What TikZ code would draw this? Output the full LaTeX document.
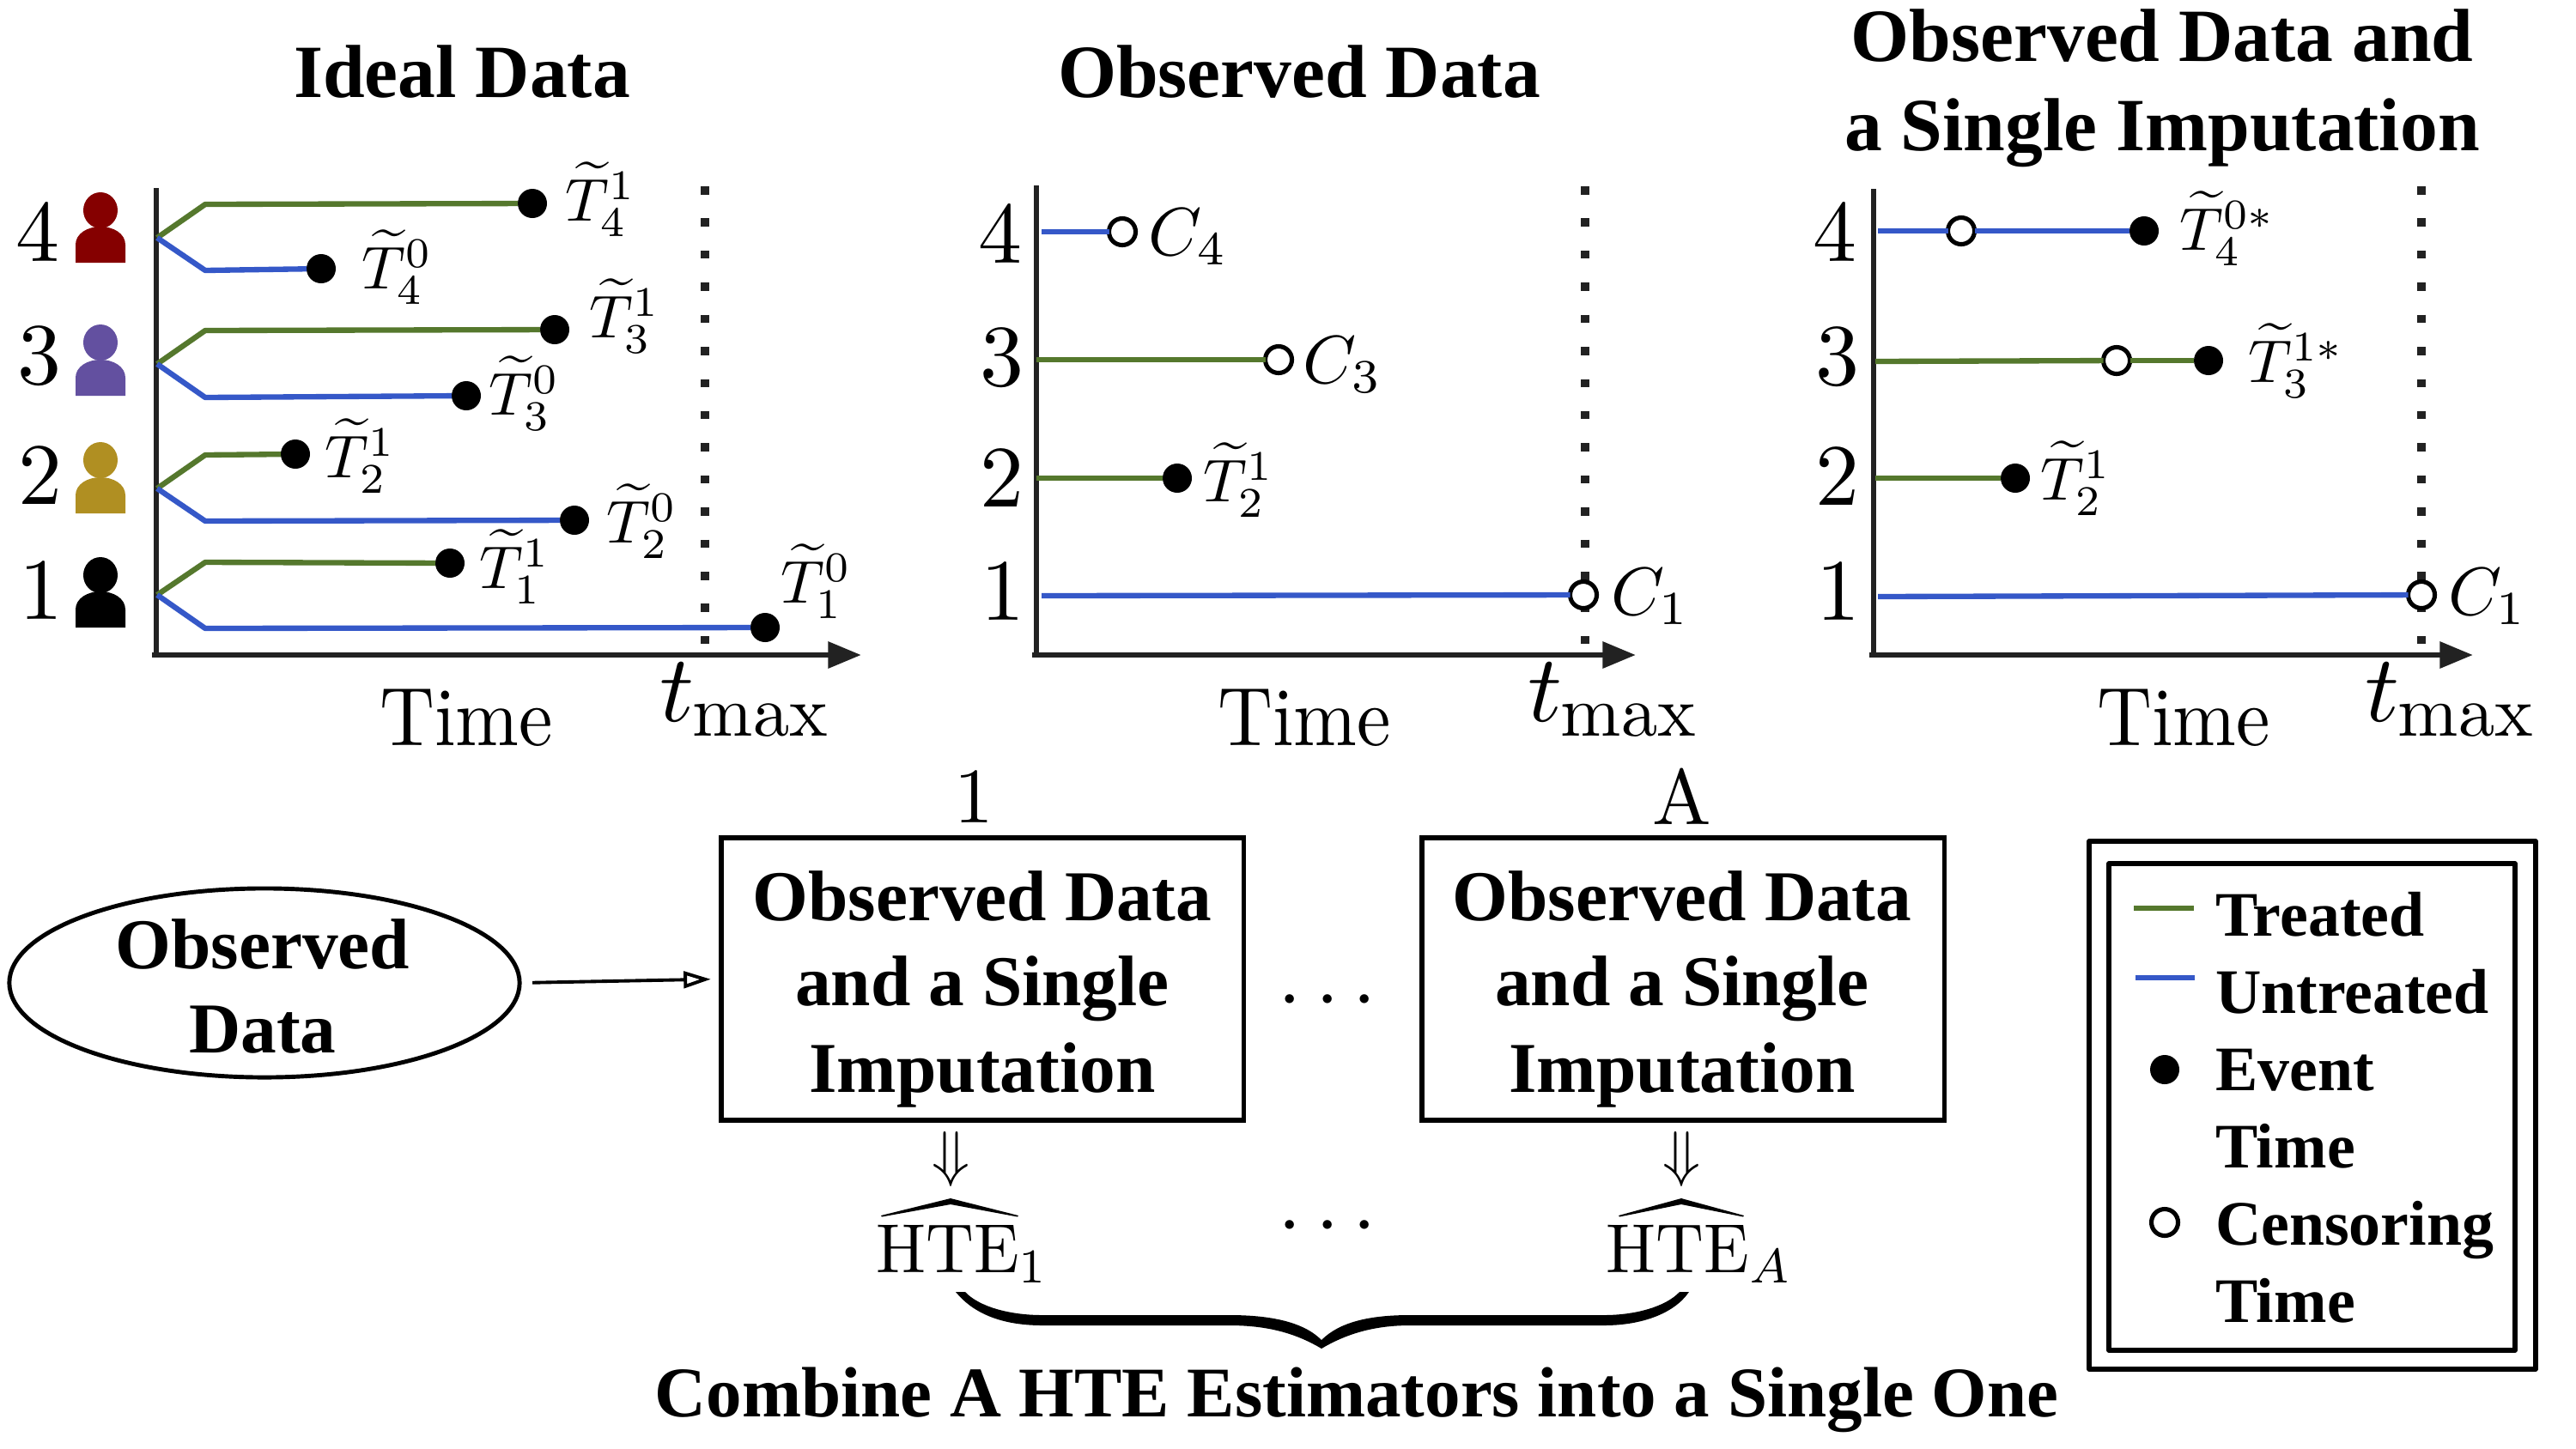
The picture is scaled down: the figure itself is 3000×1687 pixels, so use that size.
\RequirePackage{fix-cm}
\documentclass[tikz,border=0pt]{standalone}
\usepackage{fontspec}
\usetikzlibrary{shapes.geometric,arrows.meta}
\newfontfamily\tnr{Liberation Serif}
\definecolor{trgreen}{HTML}{55782D}
\definecolor{unblue}{HTML}{3558C8}
\definecolor{axisgray}{HTML}{222222}
\definecolor{pred}{HTML}{850000}
\definecolor{ppurple}{HTML}{6350A0}
\definecolor{pgold}{HTML}{B08F22}
\newcommand{\fs}[1]{\fontsize{#1}{#1}\selectfont}
\newcommand{\tmaxlabel}{\scalebox{3.15}{$t$}\hspace{-0.3pt}\raisebox{-4.8pt}{\scalebox{2.4}{max}}}
\newcommand{\numtxt}[1]{\scalebox{2.9}{#1}}
\newcommand{\timetxt}{\scalebox{2.52}[2.75]{Time}}
\newcommand{\tlabtxt}[1]{\scalebox{2.0}{$#1$}}
\newcommand{\clabtxt}[1]{\scalebox{2.25}{$#1$}}
\newcommand{\hatshape}[3]{% left x, tip x, right x
  \fill[black] (#1,1416) -- (#2,1396) -- (#3,1416) -- (#3-1,1417.5) -- (#2,1403) -- (#1+1,1417.5) -- cycle;}
\newcommand{\personicon}[4]{% x, head y, bottom y, colour
  \fill[#4] (#1,#2) ellipse (20 and 21);
  \fill[#4] (#1-29,#3) -- (#1-29,#3-21) .. controls (#1-29,#3-34) and (#1-15,#3-42) .. (#1,#3-42)
     .. controls (#1+15,#3-42) and (#1+29,#3-34) .. (#1+29,#3-21) -- (#1+29,#3) -- cycle;}
\tikzset{
  txt/.style={inner sep=0pt,outer sep=0pt,align=center},
  head/.style={txt,font=\tnr\bfseries\fs{24.9},align=center},
  boxtext/.style={txt,font=\tnr\bfseries\fs{23.7}},
  legtext/.style={inner sep=0pt,outer sep=0pt,anchor=base west,font=\tnr\bfseries\fs{21}},
  evdot/.style={circle,fill=black,draw=none,minimum size=34*0.2845pt,inner sep=0pt,outer sep=0pt},
  cedot/.style={circle,fill=white,draw=black,line width=1.45pt,minimum size=31*0.2845pt,inner sep=0pt,outer sep=0pt},
  tr/.style={trgreen,line width=1.8pt,line join=round},
  un/.style={unblue,line width=1.8pt,line join=round},
  ax/.style={axisgray,line width=1.9pt},
  axarrow/.style={axisgray,line width=1.9pt,-{Triangle[length=11pt,width=8.5pt]}},
  tmaxline/.style={axisgray,line width=2.6pt,dash pattern=on 2.7pt off 7.94pt},
  bigbox/.style={draw=black,line width=1.5pt,minimum width=608*0.2845pt,minimum height=329*0.2845pt,inner sep=0pt,outer sep=0pt},
  legbox/.style={draw=black,line width=1.5pt,line join=round},
}
\begin{document}
\begin{tikzpicture}[x=0.01cm,y=-0.01cm]
\useasboundingbox (0,0) rectangle (3000,1687);
% Titles
\node[head] (t1) at (538,84) {Ideal Data};
\node[head] (t2) at (1513,84) {Observed Data};
\node[head] (t3a) at (2518,42) {Observed Data and};
\node[head] (t3b) at (2518,155) {a Single Imputation};

% ---------- Panel 1
\coordinate (a1top) at (182,219); \coordinate (a1o) at (182,763); \coordinate (a1end) at (1003,763);
\draw[ax] (a1top) -- (a1o);
\draw[axarrow] ([xshift=-1.4pt]a1o) -- (a1end);
\coordinate (d1a) at (821,217); \coordinate (d1b) at (821,750);
\draw[tmaxline] (d1a) -- (d1b);
\foreach \n/\y/\h/\b/\c in {4/270/245/306/pred,3/415/399/461/ppurple,2/554/536/598/pgold,1/688/670/731/black}{
  \personicon{117}{\h}{\b}{\c}
}
\node[txt] (n14) at (44,270) {\numtxt{4}};
\node[txt] (n13) at (46,415) {\numtxt{3}};
\node[txt] (n12) at (47,554) {\numtxt{2}};
\node[txt] (n11) at (48,688) {\numtxt{1}};
\coordinate (o4) at (183,277); \coordinate (o3) at (183,424); \coordinate (o2) at (183,569); \coordinate (o1) at (183,693);
\node[evdot] (e41) at (620,237) {};
\node[evdot] (e40) at (374,313) {};
\node[evdot] (e31) at (646,384) {};
\node[evdot] (e30) at (543,461) {};
\node[evdot] (e21) at (344,529) {};
\node[evdot] (e20) at (669,606) {};
\node[evdot] (e11) at (524,656) {};
\node[evdot] (e10) at (891,731) {};
\coordinate (b41) at (239,238); \coordinate (b40) at (239,315);
\coordinate (b31) at (239,385); \coordinate (b30) at (239,463);
\coordinate (b21) at (239,530); \coordinate (b20) at (239,607);
\coordinate (b11) at (239,655); \coordinate (b10) at (239,732);
\draw[tr] (o4) -- (b41) -- (e41);
\draw[un] (o4) -- (b40) -- (e40);
\draw[tr] (o3) -- (b31) -- (e31);
\draw[un] (o3) -- (b30) -- (e30);
\draw[tr] (o2) -- (b21) -- (e21);
\draw[un] (o2) -- (b20) -- (e20);
\draw[tr] (o1) -- (b11) -- (e11);
\draw[un] (o1) -- (b10) -- (e10);
\node[txt] (l41) at (700,232) {\tlabtxt{\widetilde{T}_4^1}};
\node[txt] (l40) at (463,311) {\tlabtxt{\widetilde{T}_4^0}};
\node[txt] (l31) at (728,368) {\tlabtxt{\widetilde{T}_3^1}};
\node[txt] (l30) at (611,458) {\tlabtxt{\widetilde{T}_3^0}};
\node[txt] (l21) at (420,531) {\tlabtxt{\widetilde{T}_2^1}};
\node[txt] (l20) at (748,607) {\tlabtxt{\widetilde{T}_2^0}};
\node[txt] (l11) at (600,660) {\tlabtxt{\widetilde{T}_1^1}};
\node[txt] (l10) at (951,677) {\tlabtxt{\widetilde{T}_1^0}};
\node[txt] (time1) at (543,836) {\timetxt};
\node[txt] (tm1) at (866,815) {\tmaxlabel};

% ---------- Panel 2
\coordinate (a2top) at (1207,216); \coordinate (a2o) at (1207,763); \coordinate (a2end) at (1905,763);
\draw[ax] (a2top) -- (a2o);
\draw[axarrow] ([xshift=-1.4pt]a2o) -- (a2end);
\coordinate (d2a) at (1846,217); \coordinate (d2b) at (1846,750);
\draw[tmaxline] (d2a) -- (d2b);
\node[txt] (n24) at (1165,272) {\numtxt{4}};
\node[txt] (n23) at (1167,417) {\numtxt{3}};
\node[txt] (n22) at (1167,557) {\numtxt{2}};
\node[txt] (n21) at (1168,689) {\numtxt{1}};
\coordinate (s24) at (1213,270); \coordinate (s23) at (1207,419); \coordinate (s22) at (1207,557); \coordinate (s21) at (1213,694);
\node[cedot] (c24) at (1307,270) {};
\node[cedot] (c23) at (1489,419) {};
\node[evdot] (e22) at (1371,557) {};
\node[cedot] (c21) at (1844,693) {};
\draw[un] (s24) -- (c24);
\draw[tr] (s23) -- (c23);
\draw[tr] (s22) -- (e22);
\draw[un] (s21) -- (c21);
\node[txt] (l24) at (1384,276) {\clabtxt{C_4}};
\node[txt] (l23) at (1564,425) {\clabtxt{C_3}};
\node[txt] (l22) at (1443,559) {\tlabtxt{\widetilde{T}_2^1}};
\node[txt] (l2c1) at (1922,695) {\clabtxt{C_1}};
\node[txt] (time2) at (1519,836) {\timetxt};
\node[txt] (tm2) at (1877,815) {\tmaxlabel};

% ---------- Panel 3
\coordinate (a3top) at (2182,220); \coordinate (a3o) at (2182,763); \coordinate (a3end) at (2880,763);
\draw[ax] (a3top) -- (a3o);
\draw[axarrow] ([xshift=-1.4pt]a3o) -- (a3end);
\coordinate (d3a) at (2820,217); \coordinate (d3b) at (2820,750);
\draw[tmaxline] (d3a) -- (d3b);
\node[txt] (n34) at (2137,270) {\numtxt{4}};
\node[txt] (n33) at (2140,416) {\numtxt{3}};
\node[txt] (n32) at (2140,555) {\numtxt{2}};
\node[txt] (n31) at (2141,689) {\numtxt{1}};
\coordinate (s34) at (2187,269); \coordinate (s33) at (2184,421); \coordinate (s32) at (2184,557); \coordinate (s31) at (2187,695);
\node[cedot] (c34) at (2284,269) {};
\node[evdot] (e34) at (2497,269) {};
\node[cedot] (c33) at (2465,420) {};
\node[evdot] (e33) at (2572,420) {};
\node[evdot] (e32) at (2347,557) {};
\node[cedot] (c31) at (2820,693) {};
\draw[un] (s34) -- (c34);
\draw[un] (c34) -- (e34);
\draw[tr] (s33) -- (c33);
\draw[tr] (c33) -- (e33);
\draw[tr] (s32) -- (e32);
\draw[un] (s31) -- (c31);
\node[txt] (l34) at (2594,266) {\tlabtxt{\widetilde{T}_4^{0*}}};
\node[txt] (l33) at (2674,420) {\tlabtxt{\widetilde{T}_3^{1*}}};
\node[txt] (l32) at (2418,557) {\tlabtxt{\widetilde{T}_2^1}};
\node[txt] (l3c1) at (2897,695) {\clabtxt{C_1}};
\node[txt] (time3) at (2543,836) {\timetxt};
\node[txt] (tm3) at (2852,815) {\tmaxlabel};

% ---------- Lower row
\node[draw=black,line width=1.4pt,ellipse,minimum width=594*0.2845pt,minimum height=220*0.2845pt,inner sep=0pt,outer sep=0pt] (obs) at (308,1145) {};
\node[boxtext] (obs1) at (306,1100) {Observed};
\node[boxtext] (obs2) at (306,1200) {Data};
\node[bigbox] (box1) at (1144,1140.5) {};
\node[bigbox] (box2) at (1960,1140.5) {};
\node[boxtext] (b1a) at (1144,1044) {Observed Data};
\node[boxtext] (b1b) at (1144,1152) {and a Single};
\node[boxtext] (b1c) at (1144,1252) {Imputation};
\node[boxtext] (b2a) at (1959,1044) {Observed Data};
\node[boxtext] (b2b) at (1959,1152) {and a Single};
\node[boxtext] (b2c) at (1959,1252) {Imputation};
\node[txt] (lab1) at (1134,928) {\scalebox{2.6}{1}};
\node[txt] (labA) at (1959,928) {\scalebox{2.6}{A}};
\draw[black,line width=1.1pt,-{Triangle[open,fill=white,length=9pt,width=5.5pt]},shorten <=15*0.2845pt,shorten >=12*0.2845pt] (obs.east) -- (box1.west);
\node[txt] (dots1) at (1546,1167) {\scalebox{2.8}{$\cdots$}};
\node[txt] (dots2) at (1546,1430) {\scalebox{2.8}{$\cdots$}};
\node[txt] (dn1) at (1108,1350) {\scalebox{2.05}{$\Downarrow$}};
\node[txt] (dn2) at (1958,1350) {\scalebox{2.05}{$\Downarrow$}};
\node[txt] (hte1) at (1121,1461) {\scalebox{2.2}[2.3]{$\mathrm{HTE}_1$}};
\node[txt] (hteA) at (1979,1461) {\scalebox{2.2}[2.3]{$\mathrm{HTE}_A$}};
\hatshape{1026}{1107}{1186}
\hatshape{1885}{1958}{2031}
\fill[black] (1113,1505) .. controls (1135,1532) and (1170,1544) .. (1214,1544) -- (1432,1544)
  .. controls (1480,1544) and (1512,1555) .. (1539,1571)
  .. controls (1566,1555) and (1598,1544) .. (1642,1544) -- (1868,1544)
  .. controls (1912,1544) and (1950,1530) .. (1967,1505) -- (1956,1505)
  .. controls (1940,1522) and (1905,1532) .. (1868,1532) -- (1642,1532)
  .. controls (1595,1532) and (1560,1540) .. (1539,1561)
  .. controls (1518,1540) and (1480,1532) .. (1432,1532) -- (1214,1532)
  .. controls (1175,1532) and (1140,1522) .. (1124,1505) -- cycle;
\node[txt,font=\tnr\bfseries\fs{23.6}] (comb) at (1580,1631) {Combine A HTE Estimators into a Single One};

% ---------- Legend
\coordinate (lo1) at (2433,980); \coordinate (lo2) at (2953,1595);
\coordinate (li1) at (2456,1006); \coordinate (li2) at (2929,1573);
\draw[legbox] (lo1) rectangle (lo2);
\draw[legbox] (li1) rectangle (li2);
\coordinate (g1) at (2485,1058); \coordinate (g2) at (2555,1058);
\coordinate (u1) at (2487,1139); \coordinate (u2) at (2556,1139);
\draw[tr] (g1) -- (g2);
\draw[un] (u1) -- (u2);
\node[evdot] (legev) at (2521,1246) {};
\node[cedot] (legce) at (2521,1424) {};
\node[legtext] (lt1) at (2580,1090) {Treated};
\node[legtext] (lt2) at (2580,1180) {Untreated};
\node[legtext] (lt3) at (2580,1270) {Event};
\node[legtext] (lt4) at (2580,1360) {Time};
\node[legtext] (lt5) at (2580,1450) {Censoring};
\node[legtext] (lt6) at (2580,1540) {Time};
\end{tikzpicture}
\end{document}
